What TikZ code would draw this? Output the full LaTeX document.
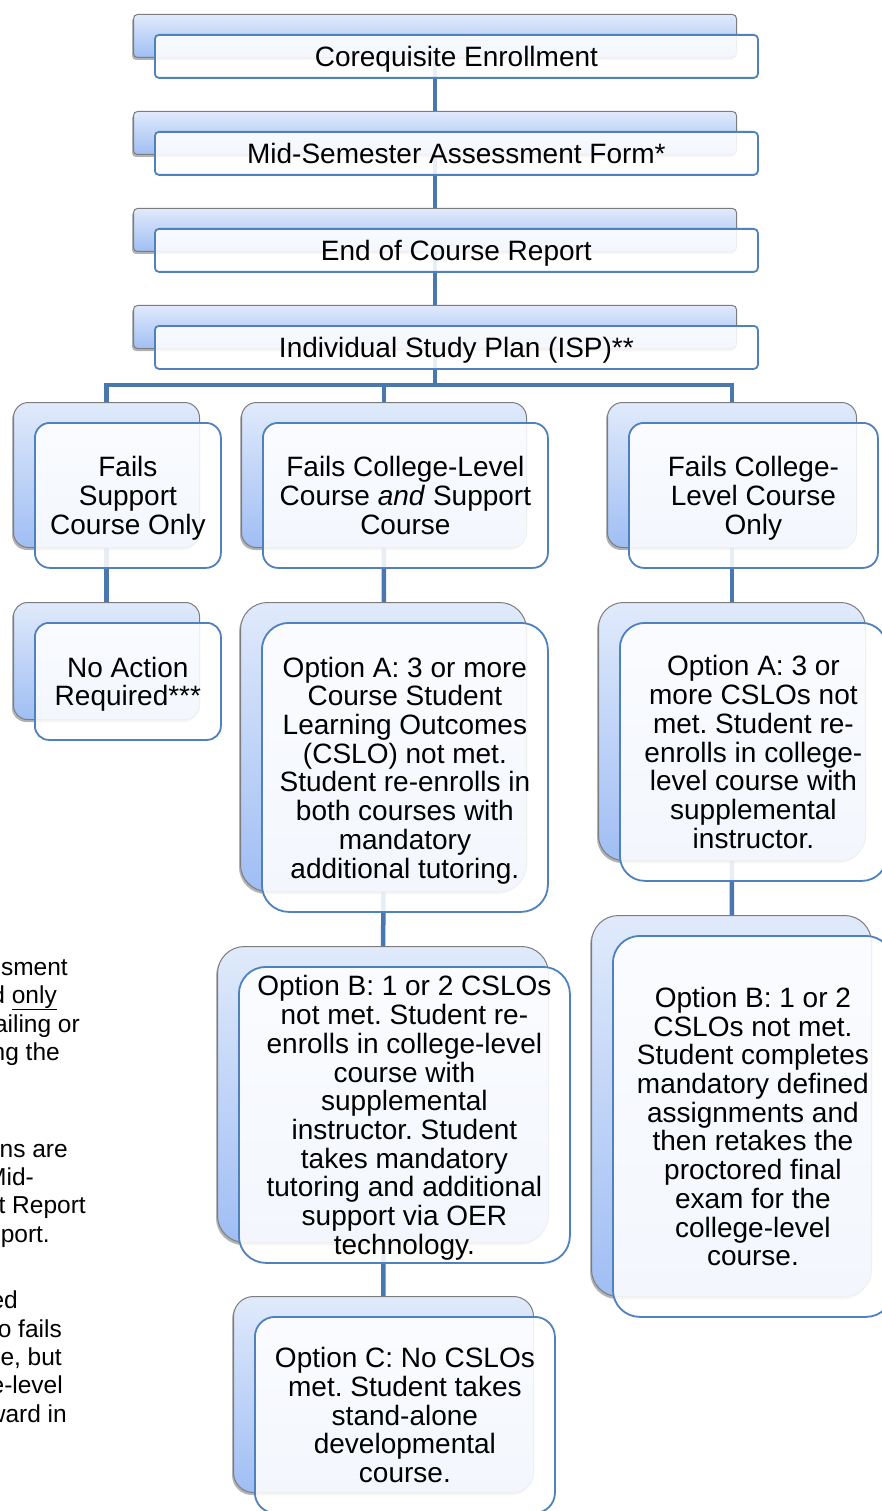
\documentclass[tikz,border=0pt]{standalone}
\usepackage{fontspec}
\setmainfont{Liberation Sans}
\usetikzlibrary{shadows,calc}
\pgfdeclarelayer{bg}
\pgfsetlayers{bg,main}
\definecolor{connblue}{RGB}{74,119,174}
\definecolor{frontblue}{RGB}{79,129,189}
\definecolor{backgray}{RGB}{125,125,125}
\definecolor{bgtop}{RGB}{224,234,251}
\definecolor{bgbot}{RGB}{160,190,244}
\newcommand\bodyfont{\fontsize{28}{28.7}\selectfont\frenchspacing}
\newcommand\notefont{\fontsize{24.5}{28.7}\selectfont\frenchspacing}
\tikzset{
  backbox/.style={draw=backgray, line width=1pt, top color=bgtop, bottom color=bgbot,
    drop shadow={shadow xshift=-1.5pt, shadow yshift=-2.5pt, opacity=0.3, fill=black},
    inner sep=0pt, anchor=north west},
  frontbox/.style={draw=frontblue, line width=1.8pt, fill=white, fill opacity=0.88,
    text opacity=1, align=center, font=\bodyfont, inner sep=0pt, text depth=0pt,
    anchor=north west},
  conn/.style={draw=connblue, line width=4.5pt},
  note/.style={font=\notefont, inner sep=0pt, anchor=base east}
}
\newcommand\mkpair[7]{%
  \node[backbox, rounded corners=#6pt, minimum width=#4pt, minimum height=#5pt] (#1b) at (#2,#3) {};
  \node[frontbox, rounded corners=#6pt, minimum width=#4pt, minimum height=#5pt] (#1) at ({#2+21},{#3+20}) {#7};
}
\begin{document}
\begin{tikzpicture}[x=1pt,y=-1pt]
\useasboundingbox (0,0) rectangle (881,1511);
% top chain
\mkpair{c1}{133}{14}{603}{43}{4}{Corequisite Enrollment}
\mkpair{c2}{133}{111}{603}{43}{4}{Mid-Semester Assessment Form*}
\mkpair{c3}{133}{208}{603}{43}{4}{End of Course Report}
\mkpair{c4}{133}{305}{603}{43}{4}{Individual Study Plan (ISP)**}
% second row
\mkpair{fs}{13}{402}{186}{145}{15}{Fails\\Support\\Course Only}
\mkpair{fb}{241}{402}{285}{145}{15}{Fails College-Level\\Course \emph{and} Support\\Course}
\mkpair{fc}{607}{402}{249}{145}{15}{Fails College-\\Level Course\\Only}
% third row
\mkpair{na}{13}{602}{186}{117}{14}{No Action\\Required***}
\mkpair{ma}{240}{602}{286}{289}{27}{Option A: 3 or more\\Course Student\\Learning Outcomes\\(CSLO) not met.\\Student re-enrolls in\\both courses with\\mandatory\\additional tutoring.}
\mkpair{ra}{598}{602}{267}{258}{25}{Option A: 3 or\\more CSLOs not\\met. Student re-\\enrolls in college-\\level course with\\supplemental\\instructor.}
% fourth row
\mkpair{mb}{217}{946}{331}{296}{27}{Option B: 1 or 2 CSLOs\\not met. Student re-\\enrolls in college-level\\course with\\supplemental\\instructor. Student\\takes mandatory\\tutoring and additional\\support via OER\\technology.}
\mkpair{rb}{591}{915}{280}{381}{27}{Option B: 1 or 2\\CSLOs not met.\\Student completes\\mandatory defined\\assignments and\\then retakes the\\proctored final\\exam for the\\college-level\\course.}
% fifth row
\mkpair{mc}{233}{1296}{300}{196}{20}{Option C: No CSLOs\\met. Student takes\\stand-alone\\developmental\\course.}
% notes (cut at the left edge, as in the reference)
\node[note] (n1) at (68,975) {sment};
\node[note] (n2) at (57,1003) {d \underline{only}};
\node[note] (n3) at (80,1032) {ailing or};
\node[note] (n4) at (60,1060) {ng the};
\node[note] (n5) at (68,1157) {ns are};
\node[note, anchor=base west] (n6) at (-14,1185) {Mid-};
\node[note] (n7) at (86,1213) {t Report};
\node[note] (n8) at (50,1242) {port.};
\node[note] (n9) at (18,1308) {ed};
\node[note] (n10) at (62,1337) {o fails};
\node[note] (n11) at (62,1365) {e, but};
\node[note] (n12) at (63,1393) {e-level};
\node[note] (n13) at (67,1422) {ward in};
\coordinate (bus) at (435,385);
\begin{pgfonlayer}{bg}
\fill[white] (0,0) rectangle (881,1511);
\draw[conn] (c1b.center) -- (c2b.center);
\draw[conn] (c2b.center) -- (c3b.center);
\draw[conn] (c3b.center) -- (c4b.center);
\draw[conn] (c4b.center) -- (c4b.center |- bus);
\draw[conn] (fsb.center) |- (bus) -| (fcb.center);
\draw[conn] (fbb.center |- bus) -- (fbb.center);
\draw[conn] (fsb.center) -- (nab.center);
\draw[conn] (fbb.center) -- (mab.center);
\draw[conn] (mab.center) -- (mbb.center);
\draw[conn] (mbb.center) -- (mcb.center);
\draw[conn] (fcb.center) -- (rab.center);
\draw[conn] (rab.center) -- (rbb.center);
\end{pgfonlayer}
\end{tikzpicture}
\end{document}
